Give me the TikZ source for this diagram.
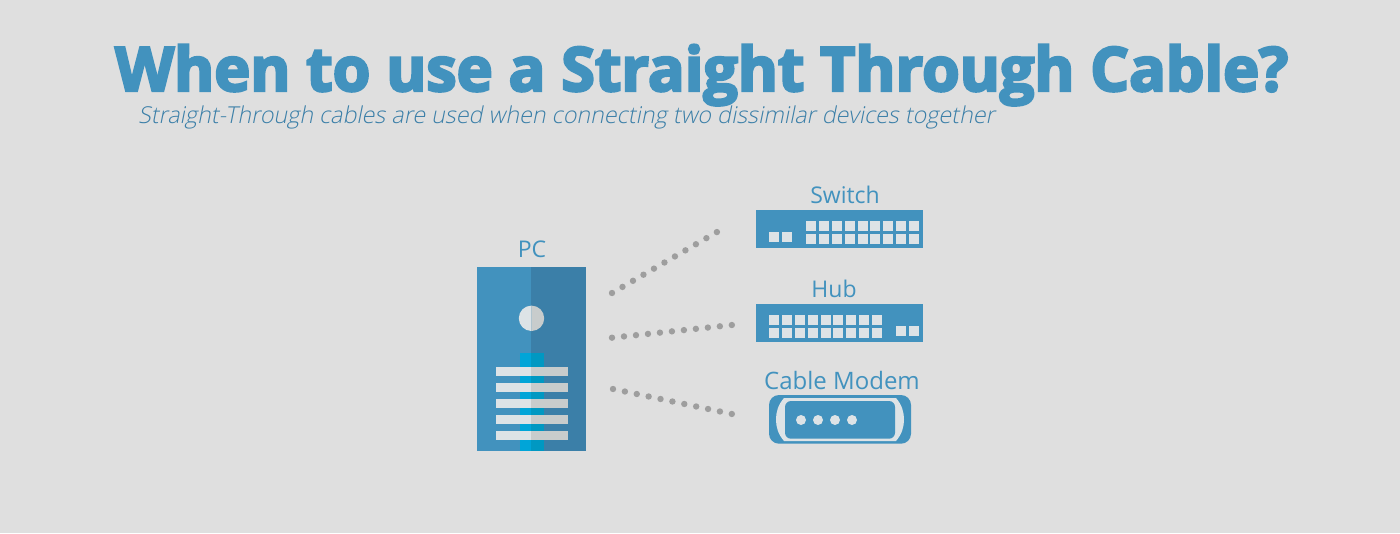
\documentclass[tikz,border=0pt]{standalone}
\usepackage{fontspec}
\setmainfont{Open Sans}
\newfontfamily\titlefont[FakeBold=4]{Open Sans Bold}
\newfontfamily\lightfont{Open Sans Light}
\definecolor{bgc}{HTML}{DFDFDF}
\definecolor{bluec}{HTML}{4292BE}
\definecolor{blued}{HTML}{3B7FA8}
\definecolor{cyanc}{HTML}{00A5D8}
\definecolor{cyand}{HTML}{0098C2}
\definecolor{lightc}{HTML}{DDE3E6}
\definecolor{lightd}{HTML}{C8CCCC}
\definecolor{portc}{HTML}{DDE3E6}
\definecolor{dotc}{HTML}{9E9E9E}
\tikzset{
  lbl/.style={text=bluec,font=\fontsize{23}{26}\selectfont,inner sep=0pt,anchor=base},
  dots/.style={draw=dotc,line width=6.4pt,line cap=round,dash pattern=on 0pt off #1pt},
  port/.style={fill=portc,draw=none},
  panel/.style={fill=bluec,draw=none,inner sep=0pt,minimum width=167pt,minimum height=37.7pt},
}
\begin{document}
\begin{tikzpicture}[x=1pt,y=-1pt]
\useasboundingbox (0,0) rectangle (1400,533);
\fill[bgc] (0,0) rectangle (1400,533);
\node[inner sep=0pt,anchor=base west,text=bluec] (title) at (115,91) {\fontsize{61}{70}\selectfont\titlefont When to use a Straight Through Cable?};
\node[inner sep=0pt,anchor=base west,text=blued] (sub) at (138,123) {\fontsize{23.3}{26}\selectfont\lightfont\addfontfeature{FakeSlant=0.2}Straight-Through cables are used when connecting two dissimilar devices together};
% PC
\node[fill=bluec,inner sep=0pt,minimum width=109pt,minimum height=184pt] (pc) at (531.5,359) {};
\fill[blued] (531,267) rectangle (586,451);
\fill[cyanc] (520,353) rectangle (531,451);
\fill[cyand] (531,353) rectangle (544,451);
\foreach \y in {367,383,399,415,431}{
  \fill[lightc] (496,\y) rectangle (531,\y+9);
  \fill[lightd] (531,\y) rectangle (568,\y+9);
}
\fill[lightc] (531.5,305.6) arc[start angle=90,end angle=270,radius=12.7pt] -- cycle;
\fill[lightd] (531.5,305.6) arc[start angle=90,end angle=-90,radius=12.7pt] -- cycle;
\node[lbl] (pclabel) at (532,257) {PC};
% Switch
\node[panel] (switch) at (839.5,228.85) {};
\node[lbl] (switchlabel) at (845,203) {Switch};
\foreach \i in {0,...,8}{
  \fill[port] (806+12.875*\i,221) rectangle ++(10,10);
  \fill[port] (806+12.875*\i,234) rectangle ++(10,10);
}
\fill[port] (769,232) rectangle ++(10,10);
\fill[port] (782,232) rectangle ++(10,10);
% Hub
\node[panel] (hub) at (839.5,322.85) {};
\node[lbl] (hublabel) at (834,297) {Hub};
\foreach \i in {0,...,8}{
  \fill[port] (769+12.875*\i,315) rectangle ++(10,10);
  \fill[port] (769+12.875*\i,328) rectangle ++(10,10);
}
\fill[port] (896,326) rectangle ++(10,10);
\fill[port] (909,326) rectangle ++(10,10);
% Modem
\node[fill=bluec,rounded corners=10pt,inner sep=0pt,minimum width=142pt,minimum height=48.7pt] (modem) at (840,419.35) {};
\fill[lightc] (784,398) -- (896,398) .. controls (902,405) and (904,412) .. (904,419.5) .. controls (904,427) and (902,434) .. (896,441) -- (784,441) .. controls (778,434) and (776,427) .. (776,419.5) .. controls (776,412) and (778,405) .. (784,398) -- cycle;
\fill[bluec,rounded corners=6pt] (785,401) rectangle (895,438.7);
\foreach \x in {801,818,835,852}{\fill[portc] (\x,420) circle[radius=5pt];}
\node[lbl,font=\fontsize{24}{26}\selectfont] (modemlabel) at (842,389) {Cable Modem};
% connectors
\coordinate (a1) at (612,293); \coordinate (b1) at (717,232);
\coordinate (a2) at (612,337.7); \coordinate (b2) at (732,325);
\coordinate (a3) at (613,389); \coordinate (b3) at (732,414);
\draw[dots=12.13] (a1) -- (b1);
\draw[dots=12.05] (a2) -- (b2);
\draw[dots=12.14] (a3) -- (b3);
\end{tikzpicture}
\end{document}
